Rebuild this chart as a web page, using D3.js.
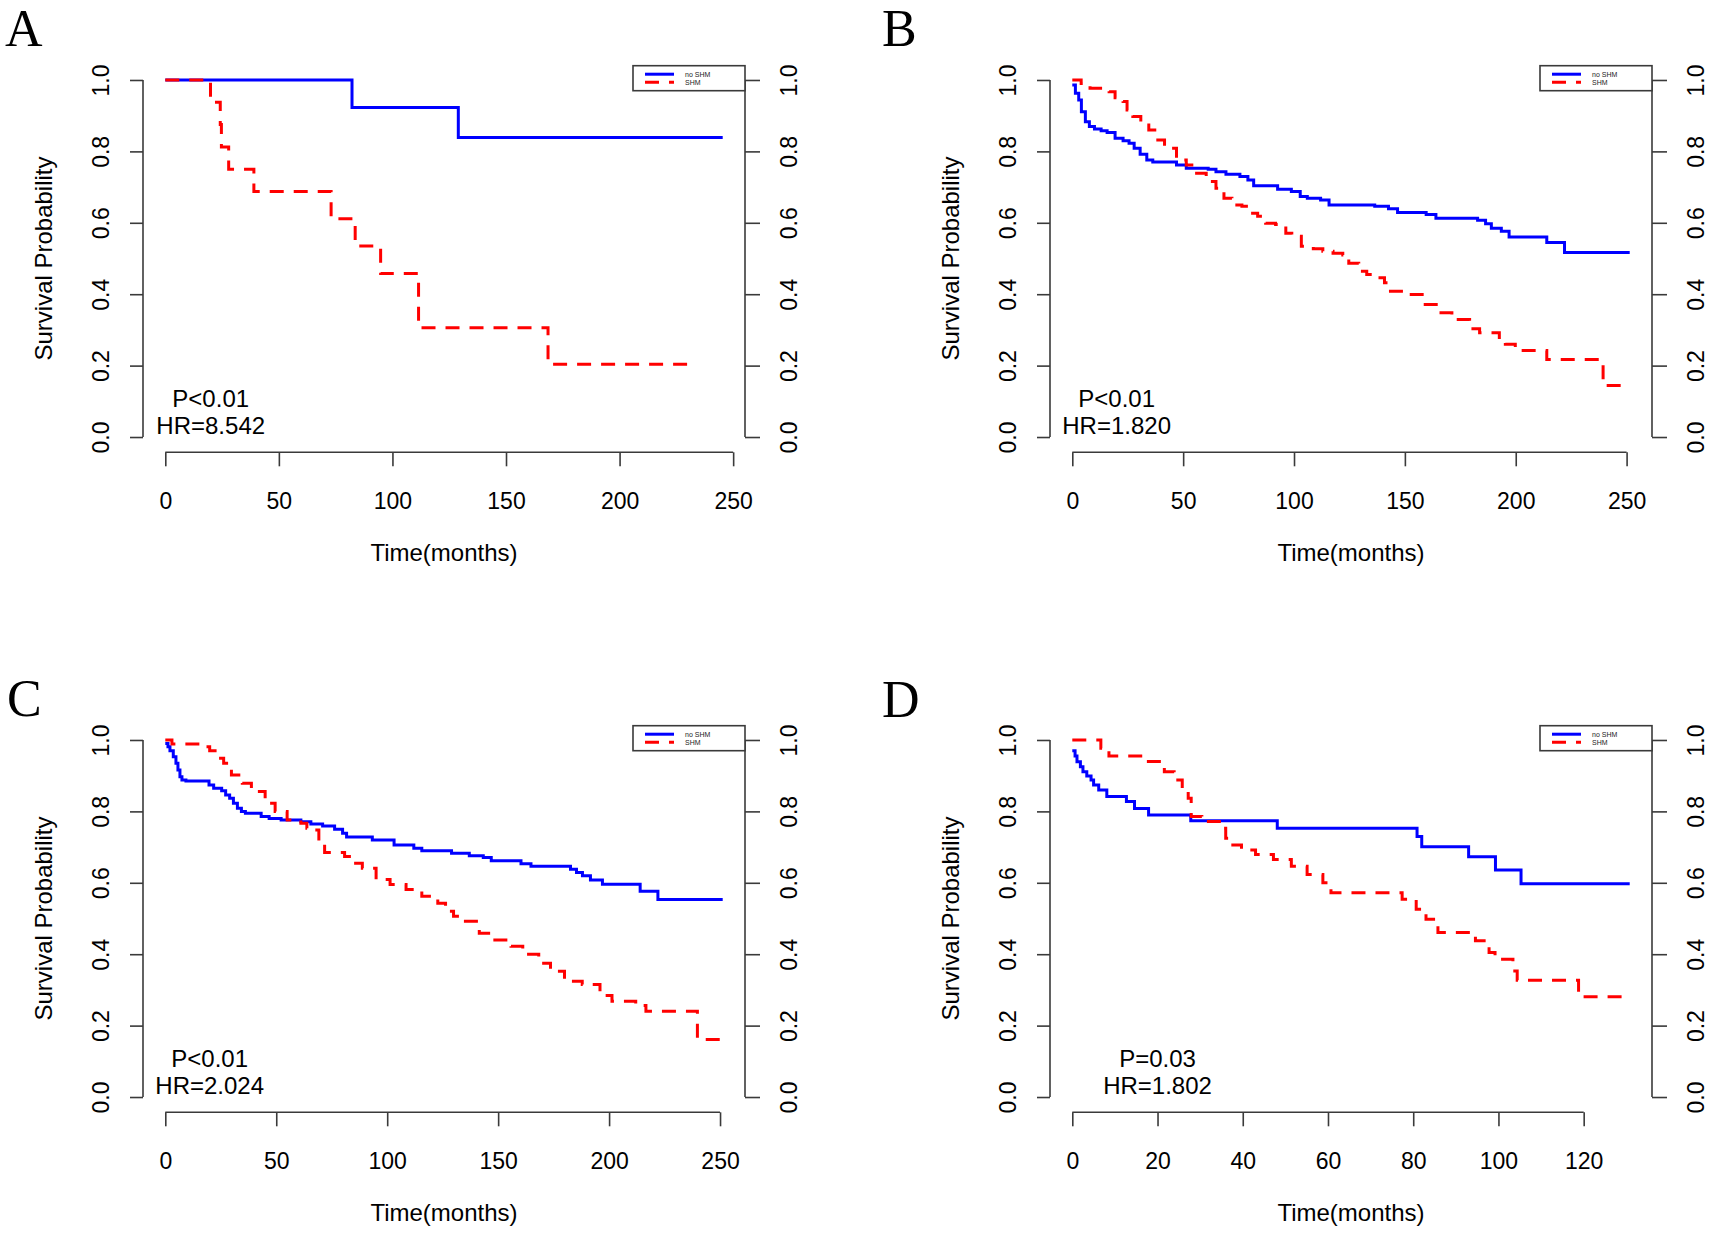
<!DOCTYPE html>
<html><head><meta charset="utf-8">
<script src="https://cdn.jsdelivr.net/npm/d3@7"></script>
<style>html,body{margin:0;padding:0;background:#fff}</style>
</head><body>
<svg id="chart" width="1713" height="1237"></svg>
<script>
// ---------- labels & ticks ----------
const panelLetters = ["A", "B", "C", "D"];
const pLabels = ["P<0.01", "P<0.01", "P<0.01", "P=0.03"];
const hrLabels = ["HR=8.542", "HR=1.820", "HR=2.024", "HR=1.802"];
const legendLabels = ["no SHM", "SHM"];
const xTicksLong = [0, 50, 100, 150, 200, 250];
const xTicksShort = [0, 20, 40, 60, 80, 100, 120];
const yTicks = [0, 0.2, 0.4, 0.6, 0.8, 1.0];
const xTitle = "Time(months)";
const yTitle = "Survival Probability";
const annotTime = 20;

// ---------- Panel A ----------
const aNoShmTime = [0, 82.2, 129, 245.4];
const aNoShmSurv = [1, 0.923, 0.839, 0.839];
const aShmTime = [0, 19.9, 24.2, 24.7, 27.9, 39, 73, 83.6, 94.8, 111.5, 168.5, 231.7];
const aShmSurv = [1, 0.9375, 0.875, 0.8125, 0.75, 0.6875, 0.611, 0.535, 0.458, 0.306, 0.204, 0.204];

// ---------- Panel B ----------
const bNoShmTime = [0, 1.4, 2.9, 4.1, 5.9, 7.7, 10, 13, 15.7, 19.3, 22.9, 25.6, 27.9, 30.6, 33.6, 36.3, 47, 51.4, 61.3, 64.8, 69.3, 75.6, 79.2, 81.8, 92.6, 98.8, 102.8, 106, 112, 115.8, 136.4, 142.6, 146.7, 159.6, 164, 182.8, 186.4, 189, 193.5, 197, 214, 222, 251.4];
const bNoShmSurv = [0.986, 0.963, 0.944, 0.911, 0.883, 0.87, 0.863, 0.858, 0.853, 0.837, 0.83, 0.823, 0.809, 0.792, 0.776, 0.77, 0.762, 0.753, 0.75, 0.743, 0.736, 0.73, 0.72, 0.704, 0.694, 0.688, 0.674, 0.669, 0.664, 0.65, 0.646, 0.639, 0.629, 0.623, 0.613, 0.607, 0.597, 0.585, 0.576, 0.56, 0.545, 0.517, 0.517];
const bShmTime = [0, 4, 8, 16.6, 19.3, 22.9, 24.7, 27.3, 30.9, 34.5, 37.2, 41.6, 47, 51.4, 55, 60.4, 64.8, 68.4, 72, 76.5, 80, 83.6, 87.2, 91.7, 96.3, 99, 103.3, 108.7, 113, 117.6, 122, 124.7, 129.2, 132.8, 137.2, 140.8, 143.5, 149.8, 157.8, 165, 171.2, 179.2, 183.7, 192.6, 195.3, 199.8, 214, 239.4, 249];
const bShmSurv = [1, 0.99, 0.977, 0.967, 0.95, 0.94, 0.916, 0.898, 0.874, 0.86, 0.832, 0.809, 0.776, 0.762, 0.739, 0.716, 0.697, 0.669, 0.65, 0.646, 0.627, 0.618, 0.599, 0.595, 0.571, 0.562, 0.534, 0.527, 0.52, 0.515, 0.51, 0.487, 0.464, 0.455, 0.446, 0.432, 0.408, 0.399, 0.371, 0.348, 0.329, 0.303, 0.292, 0.274, 0.26, 0.242, 0.217, 0.144, 0.144];

// ---------- Panel C ----------
const cNoShmTime = [0, 1.2, 2.1, 3.6, 4.8, 5.7, 6.6, 7.5, 9.3, 19.7, 21.8, 25.4, 27.2, 29, 30.7, 32.5, 34.3, 36.1, 43.2, 46.8, 52.2, 61.1, 65.6, 70.9, 76.3, 79.9, 81.7, 93.3, 103.1, 112, 115.6, 129, 137, 143.3, 146.9, 160.3, 164.8, 182.6, 185.3, 188, 191.6, 197, 214, 222, 251.2];
const cNoShmSurv = [0.99, 0.981, 0.97, 0.953, 0.935, 0.916, 0.897, 0.888, 0.885, 0.874, 0.865, 0.858, 0.846, 0.837, 0.823, 0.809, 0.8, 0.795, 0.786, 0.78, 0.776, 0.771, 0.765, 0.759, 0.75, 0.739, 0.728, 0.72, 0.706, 0.697, 0.69, 0.683, 0.676, 0.671, 0.662, 0.653, 0.646, 0.638, 0.629, 0.62, 0.608, 0.596, 0.576, 0.553, 0.553];
const cShmTime = [0, 3, 17.3, 20, 23.6, 26.3, 29.8, 34.7, 38.8, 45, 49.5, 54.9, 61.1, 63.8, 66.5, 69.2, 71.8, 80.8, 84.3, 88.8, 95, 101.3, 108.5, 115.6, 122.8, 126.3, 129.9, 134.4, 141.5, 147.7, 155.8, 161.1, 168.3, 173.6, 179.9, 187.9, 195.9, 201.3, 212, 216.6, 239.8, 250.5];
const cShmSurv = [1, 0.989, 0.981, 0.97, 0.949, 0.935, 0.902, 0.879, 0.856, 0.823, 0.8, 0.776, 0.767, 0.753, 0.748, 0.711, 0.685, 0.674, 0.655, 0.641, 0.609, 0.595, 0.581, 0.562, 0.543, 0.52, 0.506, 0.492, 0.459, 0.44, 0.422, 0.4, 0.375, 0.352, 0.324, 0.315, 0.284, 0.268, 0.256, 0.24, 0.161, 0.161];

// ---------- Panel D ----------
const dNoShmTime = [0, 0.65, 1.1, 1.9, 2.5, 3.4, 4.4, 5, 6.2, 8.1, 12.7, 14.6, 17.9, 27.8, 48.1, 80.9, 82, 93, 99.3, 105.3, 130.8];
const dNoShmSurv = [0.97, 0.955, 0.939, 0.925, 0.911, 0.899, 0.888, 0.874, 0.86, 0.842, 0.828, 0.808, 0.79, 0.774, 0.753, 0.73, 0.701, 0.673, 0.636, 0.597, 0.597];
const dShmTime = [0, 6.7, 8.6, 17.4, 21.6, 23.9, 25.8, 27.2, 27.9, 30.4, 35.1, 36, 36.9, 39.7, 43, 47.2, 51.4, 55.1, 58.8, 60.7, 77.4, 80.7, 83, 85.8, 94.6, 97.8, 99.2, 103.4, 104.4, 118.8, 130.6];
const dShmSurv = [1, 0.977, 0.955, 0.94, 0.911, 0.888, 0.86, 0.837, 0.786, 0.772, 0.753, 0.725, 0.706, 0.692, 0.679, 0.665, 0.646, 0.623, 0.6, 0.572, 0.554, 0.526, 0.498, 0.461, 0.438, 0.405, 0.386, 0.353, 0.327, 0.281, 0.281];

// ---------- assemble ----------
const zip = (t, s) => t.map((v, i) => [v, s[i]]);
const panels = [
  { noShm: zip(aNoShmTime, aNoShmSurv), shm: zip(aShmTime, aShmSurv), xticks: xTicksLong },
  { noShm: zip(bNoShmTime, bNoShmSurv), shm: zip(bShmTime, bShmSurv), xticks: xTicksLong },
  { noShm: zip(cNoShmTime, cNoShmSurv), shm: zip(cShmTime, cShmSurv), xticks: xTicksLong },
  { noShm: zip(dNoShmTime, dNoShmSurv), shm: zip(dShmTime, dShmSurv), xticks: xTicksShort }
];

// ---------- layout ----------
const svg = d3.select("#chart");
svg.append("rect").attr("width", 1713).attr("height", 1237).attr("fill", "#fff");
const W = 602, H = 385.6;
const origins = [[143, 65.7], [1050, 65.7], [143, 725.7], [1050, 725.7]];
const letterPos = [[5, 46], [882, 46], [7, 716], [882, 717]];
const axisColor = "#3a3a3a";
const sansFont = "'Liberation Sans', Arial, Helvetica, sans-serif";
const blue = "#0000ff", red = "#ff0000";
const dash = "14,10";

panels.forEach((p, i) => {
  const [L, T] = origins[i];
  const R = L + W, B = T + H;
  const tMax = d3.max([...p.noShm, ...p.shm], d => d[0]);
  const x = d3.scaleLinear().domain([-0.04 * tMax, 1.04 * tMax]).range([L, R]);
  const y = d3.scaleLinear().domain([-0.04, 1.04]).range([B, T]);
  const g = svg.append("g");

  // panel letter
  g.append("text").attr("x", letterPos[i][0]).attr("y", letterPos[i][1])
    .style("font", "52px 'Liberation Serif', 'Times New Roman', serif").attr("fill", "#000")
    .text(panelLetters[i]);

  // bottom axis
  const ax = g.append("g").attr("transform", `translate(0,${B + 1})`)
    .call(d3.axisBottom(x).tickValues(p.xticks).tickSize(14).tickSizeOuter(0).tickFormat(d3.format("d")));
  ax.select(".domain").remove();
  ax.append("line").attr("x1", x(p.xticks[0])).attr("x2", x(p.xticks[p.xticks.length - 1]))
    .attr("stroke", axisColor).attr("stroke-width", 1.6);
  ax.selectAll(".tick line").attr("stroke", axisColor).attr("stroke-width", 1.6);
  ax.selectAll(".tick text").attr("y", 57).attr("dy", null).attr("fill", "#000")
    .style("font", "23px " + sansFont);

  // left axis
  const ay = g.append("g").attr("transform", `translate(${L},0)`)
    .call(d3.axisLeft(y).tickValues(yTicks).tickSize(13).tickSizeOuter(0).tickFormat(d3.format(".1f")));
  ay.select(".domain").remove();
  ay.append("line").attr("y1", y(0)).attr("y2", y(1)).attr("stroke", axisColor).attr("stroke-width", 1.6);
  ay.selectAll(".tick line").attr("stroke", axisColor).attr("stroke-width", 1.6);
  ay.selectAll(".tick text").attr("x", null).attr("dy", null).attr("fill", "#000")
    .attr("text-anchor", "middle").attr("transform", "translate(-34,0) rotate(-90)")
    .style("font", "23px " + sansFont);

  // right axis
  const ar = g.append("g").attr("transform", `translate(${R},0)`)
    .call(d3.axisRight(y).tickValues(yTicks).tickSize(15).tickSizeOuter(0).tickFormat(d3.format(".1f")));
  ar.select(".domain").remove();
  ar.append("line").attr("y1", y(0)).attr("y2", y(1)).attr("stroke", axisColor).attr("stroke-width", 1.6);
  ar.selectAll(".tick line").attr("stroke", axisColor).attr("stroke-width", 1.6);
  ar.selectAll(".tick text").attr("x", null).attr("dy", null).attr("fill", "#000")
    .attr("text-anchor", "middle").attr("transform", "translate(52,0) rotate(-90)")
    .style("font", "23px " + sansFont);

  // axis titles
  g.append("text").attr("transform", `translate(${L - 91},${(T + B) / 2}) rotate(-90)`)
    .attr("text-anchor", "middle").style("font", "24px " + sansFont).attr("fill", "#000").text(yTitle);
  g.append("text").attr("x", (L + R) / 2).attr("y", B + 110)
    .attr("text-anchor", "middle").style("font", "24px " + sansFont).attr("fill", "#000").text(xTitle);

  // curves
  const line = d3.line().x(d => x(d[0])).y(d => y(d[1])).curve(d3.curveStepAfter);
  g.append("path").datum(p.noShm).attr("d", line).attr("fill", "none")
    .attr("stroke", blue).attr("stroke-width", 3);
  g.append("path").datum(p.shm).attr("d", line).attr("fill", "none")
    .attr("stroke", red).attr("stroke-width", 3).attr("stroke-dasharray", dash);

  // annotations
  g.append("text").attr("x", x(annotTime)).attr("y", y(0.083)).attr("text-anchor", "middle")
    .style("font", "24px " + sansFont).attr("fill", "#000").text(pLabels[i]);
  g.append("text").attr("x", x(annotTime)).attr("y", y(0.008)).attr("text-anchor", "middle")
    .style("font", "24px " + sansFont).attr("fill", "#000").text(hrLabels[i]);

  // legend
  const lg = g.append("g").attr("transform", `translate(${R - 112},${T})`);
  lg.append("rect").attr("width", 112).attr("height", 25).attr("fill", "#fff")
    .attr("stroke", axisColor).attr("stroke-width", 1.6);
  [blue, red].forEach((c, k) => {
    const ly = 8.5 + k * 8;
    lg.append("line").attr("x1", 12).attr("x2", 41).attr("y1", ly).attr("y2", ly)
      .attr("stroke", c).attr("stroke-width", 3).attr("stroke-dasharray", k ? dash : null);
    lg.append("text").attr("x", 52).attr("y", ly).attr("dy", "0.35em")
      .style("font", "7px " + sansFont).attr("fill", "#222").text(legendLabels[k]);
  });
});
</script>
</body></html>
